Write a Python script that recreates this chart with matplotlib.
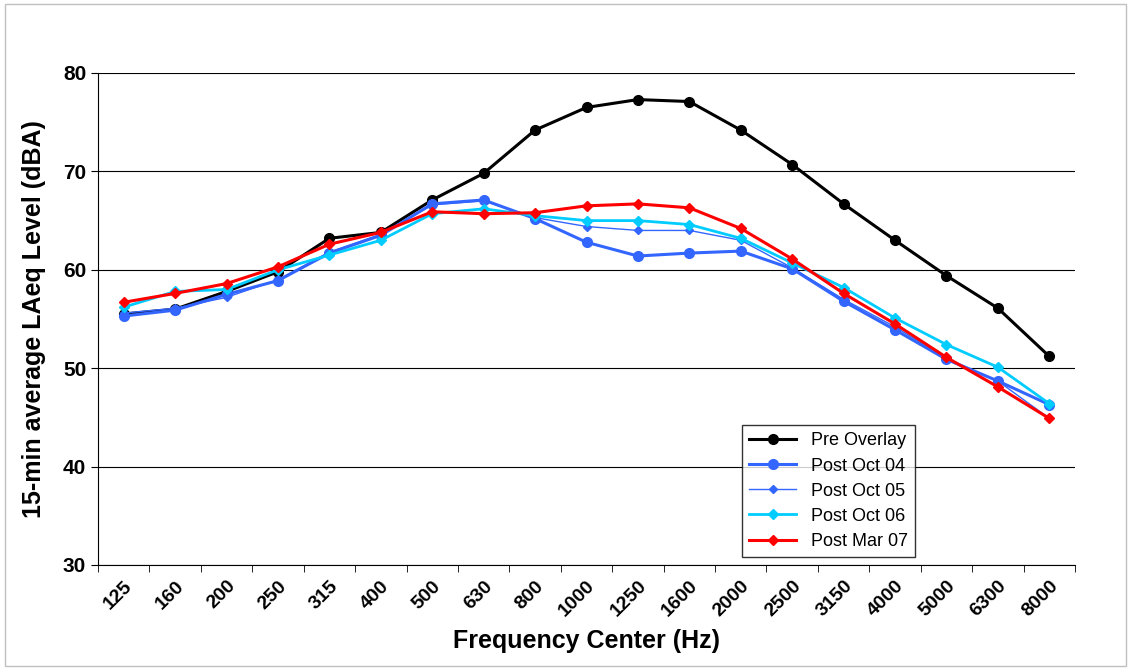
import matplotlib
matplotlib.use("Agg")
import matplotlib.pyplot as plt
from matplotlib.patches import Rectangle
plt.rcParams['font.family'] = ['Liberation Sans', 'DejaVu Sans']

freqs = ["125","160","200","250","315","400","500","630","800","1000","1250","1600","2000","2500","3150","4000","5000","6300","8000"]
pre = [55.5,56.0,57.8,59.8,63.2,63.8,67.1,69.8,74.2,76.5,77.3,77.1,74.2,70.7,66.7,63.0,59.4,56.1,51.2]
oct04 = [55.3,55.9,57.5,58.9,61.7,63.5,66.7,67.1,65.2,62.8,61.4,61.7,61.9,60.1,56.8,53.9,50.9,48.7,46.3]
oct05 = [55.6,56.1,57.2,59.0,61.8,63.6,66.6,67.0,65.3,64.4,64.0,64.0,63.0,60.2,57.0,54.2,51.0,48.7,44.9]
oct06 = [56.2,57.8,58.0,60.0,61.5,63.0,65.7,66.2,65.5,65.0,65.0,64.6,63.2,60.7,58.2,55.1,52.4,50.1,46.4]
mar07 = [56.7,57.6,58.6,60.3,62.6,63.8,65.9,65.7,65.8,66.5,66.7,66.3,64.2,61.1,57.6,54.5,51.1,48.1,44.9]

fig = plt.figure(figsize=(11.31,6.70), dpi=100)
fig.patches.append(Rectangle((0.004,0.006),0.992,0.988,transform=fig.transFigure,fill=False,ec="#c0c0c0",lw=1))
ax = fig.add_axes([98/1131, 1-565/670, (1075-98)/1131, (565-73)/670])
x = [i+0.5 for i in range(len(freqs))]
ax.plot(x, pre, color="black", marker="o", ms=7, lw=2.2, label="Pre Overlay")
ax.plot(x, oct04, color="#3366FF", marker="o", ms=7, lw=2.2, label="Post Oct 04")
ax.plot(x, oct05, color="#3366FF", marker="D", ms=4.5, lw=1, label="Post Oct 05")
ax.plot(x, oct06, color="#00CCFF", marker="D", ms=5, lw=2, label="Post Oct 06")
ax.plot(x, mar07, color="#FF0000", marker="D", ms=5, lw=2.2, label="Post Mar 07")
ax.set_xlim(0, len(freqs))
ax.set_ylim(30, 80)
ax.set_yticks([30,40,50,60,70,80])
ax.yaxis.grid(True, color="black", lw=0.8)
ax.set_axisbelow(True)
ax.set_xticks(x)
ax.set_xticklabels(freqs, rotation=45, ha="right", rotation_mode="anchor", fontsize=14, fontweight="bold")
ax.set_xticks(range(len(freqs)+1), minor=True)
ax.tick_params(axis="x", which="major", length=0, pad=9)
ax.tick_params(axis="x", which="minor", length=5, direction="out")
ax.tick_params(axis="y", labelsize=15, length=5, direction="out")
for t in ax.get_yticklabels(): t.set_fontweight("bold")
for s in ["top","right"]: ax.spines[s].set_visible(False)
ax.set_xlabel("Frequency Center (Hz)", fontsize=18, fontweight="bold", labelpad=6)
ax.set_ylabel("15-min average LAeq Level (dBA)", fontsize=18, fontweight="bold", labelpad=12)
leg = ax.legend(loc="lower right", bbox_to_anchor=(0.836, 0.016), borderaxespad=0, fontsize=13, frameon=True, fancybox=False, edgecolor="black", borderpad=0.4, labelspacing=0.45, handlelength=2.6)
leg.get_frame().set_linewidth(1)
fig.savefig("out.png", dpi=100)
